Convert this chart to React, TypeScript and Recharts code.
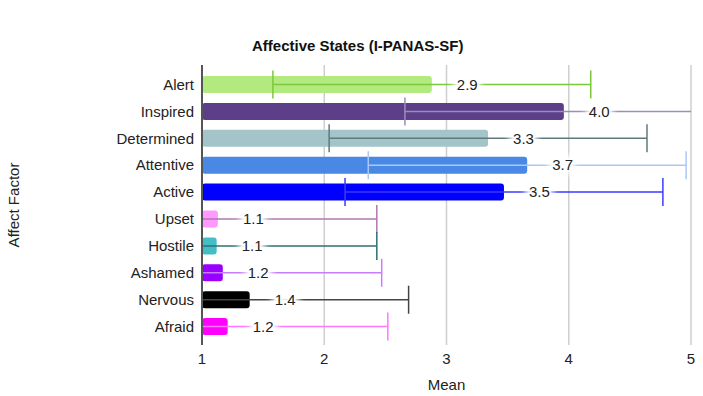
import React from "react";
import { BarChart, Bar, XAxis, YAxis, CartesianGrid, Cell, ErrorBar, LabelList } from "recharts";

const factors = ["Alert", "Inspired", "Determined", "Attentive", "Active", "Upset", "Hostile", "Ashamed", "Nervous", "Afraid"];
const means = [2.88, 3.96, 3.34, 3.66, 3.47, 1.13, 1.12, 1.17, 1.39, 1.21];
const sds = [1.3, 1.3, 1.3, 1.3, 1.3, 1.3, 1.31, 1.3, 1.3, 1.31];
const barColors = ["#b3ea80", "#5c3f88", "#a3c4c9", "#4a88e6", "#0000ff", "#ff99ff", "#44bec6", "#9900ff", "#000000", "#ff00ff"];
const errColors = ["#7dc83a", "#9d8bbd", "#5f7a7b", "#a9c8f8", "#3a3aff", "#b078b0", "#2f6f72", "#c77dff", "#444444", "#ff77ff"];
const xTicks = [1, 2, 3, 4, 5];

// one error key per row so each factor's whisker gets its own colour
const rows = factors.map((name, i) => {
  const row: Record<string, number | string> = { name, mean: means[i] };
  row[`err${i}`] = sds[i];
  return row;
});

const FONT = "'Liberation Sans', Arial, Helvetica, sans-serif";
const W = 703;
const H = 396;
const MARGIN = { top: 65, right: 12, bottom: 0, left: 0 };
const Y_AXIS_W = 202;
const X_AXIS_H = 51;

// whiskers that run past the axis domain get cut at the plot edges
const plotClip = {
  x: MARGIN.left + Y_AXIS_W,
  y: MARGIN.top - 10,
  width: W - MARGIN.right - MARGIN.left - Y_AXIS_W,
  height: H - MARGIN.top - X_AXIS_H + 20,
};

// value label with a soft white halo behind it
const HaloLabel = (props: any) => {
  const { x, y, width, height, value, index } = props;
  const tx = x + width + 25;
  const ty = y + height / 2;
  const fid = `halo-${index}`;
  const txt = Number(value).toFixed(1);
  return (
    <g>
      <defs>
        <filter id={fid} x="-50%" y="-50%" width="200%" height="200%">
          <feGaussianBlur stdDeviation="3" />
        </filter>
      </defs>
      <text x={tx} y={ty} dy="0.35em" fontSize={15} fontFamily={FONT} fill="#fff" stroke="#fff" strokeWidth={8} filter={`url(#${fid})`}>
        {txt}
      </text>
      <text x={tx} y={ty} dy="0.35em" fontSize={15} fontFamily={FONT} fill="#fff" stroke="#fff" strokeWidth={3} strokeOpacity={0.8}>
        {txt}
      </text>
      <text x={tx} y={ty} dy="0.35em" fontSize={15} fontFamily={FONT} fill="#222">
        {txt}
      </text>
    </g>
  );
};

export default function App() {
  return (
    <div style={{ position: "absolute", left: 0, top: 0, width: W, height: H, background: "#fff", fontFamily: FONT }}>
      <style>{`.recharts-errorBar { clip-path: url(#plot-area); }`}</style>
      <svg width={0} height={0} style={{ position: "absolute" }}>
        <defs>
          <clipPath id="plot-area" clipPathUnits="userSpaceOnUse">
            <rect {...plotClip} />
          </clipPath>
        </defs>
      </svg>
      <div
        style={{
          position: "absolute", left: 252, width: 200, top: 37, textAlign: "center",
          fontSize: 15, fontWeight: "bold", color: "#111", whiteSpace: "nowrap", lineHeight: "18px",
        }}
      >
        Affective States (I-PANAS-SF)
      </div>
      <BarChart
        width={W}
        height={H}
        data={rows}
        layout="vertical"
        margin={MARGIN}
        style={{ fontFamily: FONT }}
      >
        <CartesianGrid horizontal={false} stroke="#cfcfcf" strokeWidth={1.5} />
        <XAxis
          type="number"
          domain={[1, 5]}
          ticks={xTicks}
          allowDataOverflow
          axisLine={false}
          tickLine={false}
          height={X_AXIS_H}
          tick={{ fontSize: 15, fill: "#222" }}
          label={{ value: "Mean", position: "insideBottom", offset: 6, fontSize: 15, fill: "#222" }}
        />
        <YAxis
          type="category"
          dataKey="name"
          width={Y_AXIS_W}
          padding={{ top: 6, bottom: 5 }}
          axisLine={{ stroke: "#555", strokeWidth: 2 }}
          tickLine={false}
          tick={{ fontSize: 15, fill: "#222" }}
          label={{ value: "Affect Factor", angle: -90, position: "insideLeft", offset: 14, fontSize: 15, fill: "#222", style: { textAnchor: "middle" } }}
        />
        <Bar dataKey="mean" barSize={17} radius={3} isAnimationActive={false}>
          {rows.map((_, i) => (
            <Cell key={i} fill={barColors[i]} />
          ))}
          {factors.map((_, i) => (
            <ErrorBar key={i} dataKey={`err${i}`} direction="x" width={14} stroke={errColors[i]} strokeWidth={1.5} />
          ))}
          <LabelList dataKey="mean" content={<HaloLabel />} />
        </Bar>
      </BarChart>
    </div>
  );
}
